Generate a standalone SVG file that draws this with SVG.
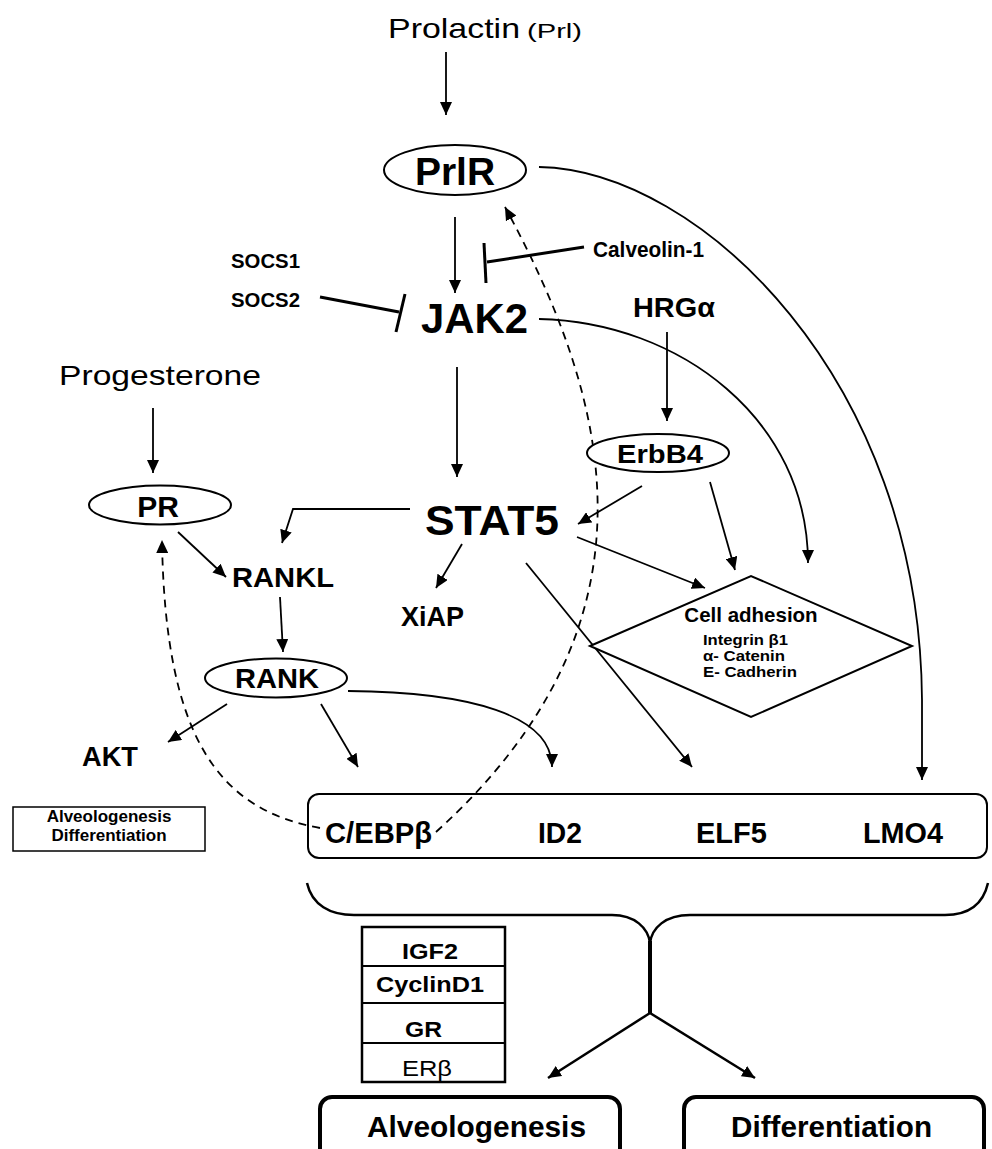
<svg xmlns="http://www.w3.org/2000/svg" width="992" height="1149" viewBox="0 0 992 1149">
<style>
text{font-family:"Liberation Sans",Arial,sans-serif;fill:#000}
.b{font-weight:bold}
.c{text-anchor:middle}
.ln{fill:none;stroke:#000;stroke-width:1.8}
.inh{fill:none;stroke:#000;stroke-width:3}
.ds{fill:none;stroke:#000;stroke-width:1.8;stroke-dasharray:8,6}
.nd{fill:#fff;stroke:#000;stroke-width:2}
</style>
<defs>
<marker id="ah" markerUnits="userSpaceOnUse" markerWidth="14" markerHeight="12" refX="13" refY="6" orient="auto">
<path d="M0,0 L13,6 L0,12 z" fill="#000"/>
</marker>
</defs>
<rect width="992" height="1149" fill="#fff"/>

<g id="connectors">
<line class="ln" x1="446" y1="52" x2="446" y2="115" marker-end="url(#ah)"/>
<line class="ln" x1="455" y1="217" x2="455" y2="293" marker-end="url(#ah)"/>
<line class="inh" x1="487" y1="262" x2="584" y2="247"/>
<line class="inh" x1="484" y1="243" x2="486" y2="283"/>
<line class="inh" x1="320" y1="297" x2="399" y2="312"/>
<line class="inh" x1="405" y1="294" x2="396" y2="332"/>
<path class="ln" d="M539,167 C700,170 920,380 922,700 L922,780" marker-end="url(#ah)"/>
<path class="ln" d="M539,319 C680,322 808,420 808,563" marker-end="url(#ah)"/>
<line class="ln" x1="667" y1="332" x2="667" y2="421" marker-end="url(#ah)"/>
<line class="ln" x1="457" y1="367" x2="457" y2="477" marker-end="url(#ah)"/>
<line class="ln" x1="153" y1="408" x2="153" y2="473" marker-end="url(#ah)"/>
<path class="ln" d="M410,509 L293,509 L282,543" marker-end="url(#ah)"/>
<line class="ln" x1="642" y1="486" x2="578" y2="524" marker-end="url(#ah)"/>
<line class="ln" x1="710" y1="482" x2="735" y2="570" marker-end="url(#ah)"/>
<line class="ln" x1="577" y1="537" x2="705" y2="588" marker-end="url(#ah)"/>
<line class="ln" x1="526" y1="563" x2="692" y2="767" marker-end="url(#ah)"/>
<line class="ln" x1="462" y1="544" x2="436" y2="588" marker-end="url(#ah)"/>
<line class="ln" x1="178" y1="532" x2="226" y2="577" marker-end="url(#ah)"/>
<line class="ln" x1="280" y1="597" x2="283" y2="652" marker-end="url(#ah)"/>
<line class="ln" x1="227" y1="704" x2="168" y2="742" marker-end="url(#ah)"/>
<line class="ln" x1="321" y1="704" x2="358" y2="767" marker-end="url(#ah)"/>
<path class="ln" d="M348,691 C470,692 552,715 552,767" marker-end="url(#ah)"/>
<path class="ds" d="M320,828 C220,810 165,740 162,540" marker-end="url(#ah)"/>
<path class="ds" d="M436,832 C670,620 610,400 505,207" marker-end="url(#ah)"/>
<path fill="none" stroke="#000" stroke-width="2.5" d="M307,883 C312,905 330,915 354,915 L612,915 C635,915 648,928 650,943 C652,928 665,915 690,915 L945,915 C968,915 983,905 988,883"/>
<line x1="650" y1="941" x2="650" y2="1013" stroke="#000" stroke-width="4"/>
<line x1="650" y1="1013" x2="548" y2="1078" stroke="#000" stroke-width="2.5" marker-end="url(#ah)"/>
<line x1="650" y1="1013" x2="755" y2="1078" stroke="#000" stroke-width="2.5" marker-end="url(#ah)"/>
</g>

<g id="prolactin">
<text x="388" y="38" font-size="28" textLength="132" lengthAdjust="spacingAndGlyphs">Prolactin</text>
<text x="527" y="38" font-size="21" textLength="55" lengthAdjust="spacingAndGlyphs">(Prl)</text>
</g>
<g id="prlr">
<ellipse class="nd" cx="455" cy="170" rx="71" ry="25"/>
<text class="b c" x="455" y="185" font-size="39">PrlR</text>
</g>
<g id="socs">
<text class="b" x="231" y="268" font-size="21" textLength="69" lengthAdjust="spacingAndGlyphs">SOCS1</text>
<text class="b" x="231" y="307" font-size="21" textLength="69" lengthAdjust="spacingAndGlyphs">SOCS2</text>
</g>
<g id="calveolin">
<text class="b" x="593" y="257" font-size="22" textLength="111" lengthAdjust="spacingAndGlyphs">Calveolin-1</text>
</g>
<g id="jak2">
<text class="b" x="421" y="333" font-size="42" textLength="107" lengthAdjust="spacingAndGlyphs">JAK2</text>
</g>
<g id="hrga">
<text class="b" x="633" y="317" font-size="28" textLength="82" lengthAdjust="spacingAndGlyphs">HRGα</text>
</g>
<g id="progesterone">
<text x="59" y="385" font-size="28" textLength="202" lengthAdjust="spacingAndGlyphs">Progesterone</text>
</g>
<g id="pr">
<ellipse class="nd" cx="160" cy="505" rx="71" ry="19.5"/>
<text class="b c" x="158" y="517" font-size="30">PR</text>
</g>
<g id="erbb4">
<ellipse class="nd" cx="658" cy="453" rx="71" ry="19"/>
<text class="b" x="617" y="463" font-size="26" textLength="86" lengthAdjust="spacingAndGlyphs">ErbB4</text>
</g>
<g id="stat5">
<text class="b" x="425" y="535" font-size="42" textLength="134" lengthAdjust="spacingAndGlyphs">STAT5</text>
</g>
<g id="rankl">
<text class="b" x="232" y="587" font-size="28" textLength="102" lengthAdjust="spacingAndGlyphs">RANKL</text>
</g>
<g id="xiap">
<text class="b" x="401" y="626" font-size="28" textLength="63" lengthAdjust="spacingAndGlyphs">XiAP</text>
</g>
<g id="cell-adhesion">
<polygon class="nd" points="590,646 751,576 912,646 751,717"/>
<text class="b c" x="751" y="622" font-size="20.5">Cell adhesion</text>
<text class="b" x="703" y="645" font-size="14" textLength="85" lengthAdjust="spacingAndGlyphs">Integrin β1</text>
<text class="b" x="703" y="661" font-size="14" textLength="82" lengthAdjust="spacingAndGlyphs">α- Catenin</text>
<text class="b" x="703" y="677" font-size="14" textLength="94" lengthAdjust="spacingAndGlyphs">E- Cadherin</text>
</g>
<g id="rank">
<ellipse class="nd" cx="276" cy="678" rx="71" ry="19.5"/>
<text class="b" x="235" y="688" font-size="28" textLength="84" lengthAdjust="spacingAndGlyphs">RANK</text>
</g>
<g id="akt">
<text class="b" x="82" y="766" font-size="28" textLength="56" lengthAdjust="spacingAndGlyphs">AKT</text>
</g>
<g id="legend-box">
<rect x="13" y="807" width="192" height="44" fill="#fff" stroke="#000" stroke-width="1.5"/>
<text class="b c" x="109" y="822" font-size="17">Alveologenesis</text>
<text class="b c" x="109" y="841" font-size="17">Differentiation</text>
</g>
<g id="genes">
<rect x="308" y="794" width="679" height="64" rx="11" fill="none" stroke="#000" stroke-width="2"/>
<text class="b" x="325" y="843" font-size="29" textLength="107" lengthAdjust="spacingAndGlyphs">C/EBPβ</text>
<text class="b" x="538" y="843" font-size="29" textLength="44" lengthAdjust="spacingAndGlyphs">ID2</text>
<text class="b" x="696" y="843" font-size="29" textLength="71" lengthAdjust="spacingAndGlyphs">ELF5</text>
<text class="b" x="863" y="843" font-size="29" textLength="80" lengthAdjust="spacingAndGlyphs">LMO4</text>
</g>
<g id="targets">
<rect x="362" y="927" width="143" height="155" fill="#fff" stroke="#000" stroke-width="2.5"/>
<line x1="362" y1="966" x2="505" y2="966" stroke="#000" stroke-width="2"/>
<line x1="362" y1="1003" x2="505" y2="1003" stroke="#000" stroke-width="2"/>
<line x1="362" y1="1043" x2="505" y2="1043" stroke="#000" stroke-width="2"/>
<text class="b" x="402" y="959" font-size="22" textLength="56" lengthAdjust="spacingAndGlyphs">IGF2</text>
<text class="b" x="376" y="992" font-size="22" textLength="108" lengthAdjust="spacingAndGlyphs">CyclinD1</text>
<text class="b" x="405" y="1037" font-size="22" textLength="37" lengthAdjust="spacingAndGlyphs">GR</text>
<text x="402" y="1076" font-size="22" textLength="50" lengthAdjust="spacingAndGlyphs">ERβ</text>
</g>
<g id="alveologenesis">
<rect x="320" y="1097" width="300" height="70" rx="12" fill="#fff" stroke="#000" stroke-width="4"/>
<text class="b" x="367" y="1137" font-size="29" textLength="219" lengthAdjust="spacingAndGlyphs">Alveologenesis</text>
</g>
<g id="differentiation">
<rect x="684" y="1097" width="300" height="70" rx="12" fill="#fff" stroke="#000" stroke-width="4"/>
<text class="b" x="731" y="1137" font-size="29" textLength="201" lengthAdjust="spacingAndGlyphs">Differentiation</text>
</g>
</svg>
